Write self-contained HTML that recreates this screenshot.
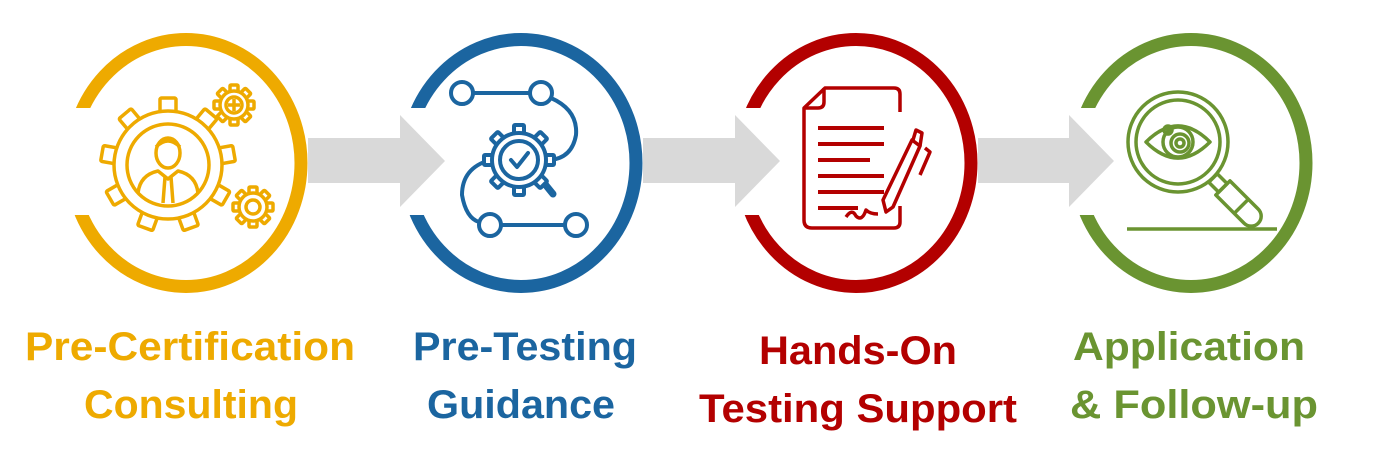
<!DOCTYPE html>
<html><head><meta charset="utf-8"><style>
html,body{margin:0;padding:0;background:#fff;}
svg{display:block;}
text{font-family:"Liberation Sans",sans-serif;font-weight:bold;font-size:40px;}
</style></head><body>
<svg width="1382" height="469" viewBox="0 0 1382 469" xmlns="http://www.w3.org/2000/svg">
<defs>
<rect id="tooth" x="-8" y="-67" width="16" height="20" rx="1.5"/>
<rect id="stooth" x="-4" y="-20" width="8" height="8" rx="1"/>
<rect id="btooth" x="-5" y="-35" width="10" height="10" rx="1"/>
</defs>
<!-- rings -->
<g fill="none" stroke-width="13">
<ellipse cx="186" cy="163" rx="115" ry="123.5" stroke="#eeaa00"/>
<ellipse cx="521" cy="163" rx="115" ry="123.5" stroke="#1b65a0"/>
<ellipse cx="856" cy="163" rx="115" ry="123.5" stroke="#b30000"/>
<ellipse cx="1191" cy="163" rx="115" ry="123.5" stroke="#6a9431"/>
</g>
<g fill="#fff">
<rect x="55" y="108" width="40" height="107"/>
<rect x="390" y="108" width="40" height="107"/>
<rect x="725" y="108" width="40" height="107"/>
<rect x="1060" y="108" width="40" height="107"/>
</g>
<!-- arrows -->
<g fill="#d9d9d9">
<rect x="308" y="138" width="94" height="45"/><polygon points="400,115 445,161 400,207"/>
<rect x="643" y="138" width="94" height="45"/><polygon points="735,115 780,161 735,207"/>
<rect x="978" y="138" width="94" height="45"/><polygon points="1069,115 1114,161 1069,207"/>
</g>
<!-- yellow icon -->
<g stroke="#eeaa00" stroke-width="3.5" fill="#fff" stroke-linejoin="round">
<g transform="translate(168,165)">
<use href="#tooth"/><use href="#tooth" transform="rotate(40)"/><use href="#tooth" transform="rotate(80)"/><use href="#tooth" transform="rotate(120)"/><use href="#tooth" transform="rotate(160)"/><use href="#tooth" transform="rotate(200)"/><use href="#tooth" transform="rotate(240)"/><use href="#tooth" transform="rotate(280)"/><use href="#tooth" transform="rotate(320)"/>
<circle r="54"/>
<circle r="41"/>
<ellipse cx="0" cy="-12" rx="12" ry="15"/>
<path d="M-12,-18 Q0,-30 12,-18" fill="none"/>
<path d="M-30,28 Q-28,10 -10,6 L0,14 L10,6 Q28,10 30,28" fill="none"/>
<path d="M-3,12 L-5,38 M3,12 L5,38" fill="none"/>
</g>
<g transform="translate(234,105)">
<use href="#stooth"/><use href="#stooth" transform="rotate(45)"/><use href="#stooth" transform="rotate(90)"/><use href="#stooth" transform="rotate(135)"/><use href="#stooth" transform="rotate(180)"/><use href="#stooth" transform="rotate(225)"/><use href="#stooth" transform="rotate(270)"/><use href="#stooth" transform="rotate(315)"/>
<circle r="14"/><circle r="8"/><path d="M-6,0H6M0,-6V6"/>
</g>
<g transform="translate(253,207)">
<use href="#stooth"/><use href="#stooth" transform="rotate(45)"/><use href="#stooth" transform="rotate(90)"/><use href="#stooth" transform="rotate(135)"/><use href="#stooth" transform="rotate(180)"/><use href="#stooth" transform="rotate(225)"/><use href="#stooth" transform="rotate(270)"/><use href="#stooth" transform="rotate(315)"/>
<circle r="14"/><circle r="7"/>
</g>
</g>
<!-- blue icon -->
<g stroke="#1b65a0" stroke-width="4" fill="none" stroke-linecap="round">
<circle cx="462" cy="93" r="11"/><circle cx="541" cy="93" r="11"/><line x1="473" y1="93" x2="530" y2="93"/>
<path d="M551,98 Q578,110 576,135 Q572,158 550,160"/>
<circle cx="490" cy="225" r="11"/><circle cx="576" cy="225" r="11"/><line x1="501" y1="225" x2="565" y2="225"/>
<path d="M490,160 Q462,168 462,195 Q466,218 479,222"/>
<path d="M540,178 L553,194" stroke-width="7"/>
<g transform="translate(519,160)" fill="#fff" stroke-linejoin="round">
<use href="#btooth"/><use href="#btooth" transform="rotate(45)"/><use href="#btooth" transform="rotate(90)"/><use href="#btooth" transform="rotate(135)"/><use href="#btooth" transform="rotate(180)"/><use href="#btooth" transform="rotate(225)"/><use href="#btooth" transform="rotate(270)"/><use href="#btooth" transform="rotate(315)"/>
<circle r="27"/><circle r="19"/>
<path d="M-8,0 L-2,7 L9,-7" fill="none"/>
</g>
</g>
<!-- red icon -->
<g stroke="#b30000" stroke-width="3.5" fill="none" stroke-linejoin="round">
<path d="M900,112 V94 Q900,88 894,88 H825 L804,108 V220 Q804,228 812,228 H894 Q900,228 900,222 V206"/>
<path d="M804,108 H818 Q824,108 824,102 V88"/>
<g stroke-width="4"><path d="M818,128H884M818,144H884M818,160H870M818,176H884M818,192H884M818,208H858"/></g>
<path d="M846,217 Q852,208 856,216 Q862,222 866,210 Q870,214 878,214"/>
<path d="M912,140 L920,146 L893,207 L886,212 L883,200 Z"/>
<path d="M913,140 L916,130 L922,133 L920,146"/>
<path d="M925,148 L930,152 L920,175"/>
</g>
<!-- green icon -->
<g stroke="#6a9431" stroke-width="3.5" fill="none" stroke-linejoin="round">
<circle cx="1178" cy="142" r="50"/><circle cx="1178" cy="142" r="42"/>
<path d="M1146,142 Q1178,110 1210,142 Q1178,174 1146,142 Z"/>
<circle cx="1178" cy="142" r="15"/><circle cx="1180" cy="143" r="9"/><circle cx="1180" cy="143" r="4"/>
<circle cx="1168" cy="130" r="4"/>
<g transform="translate(1213,178) rotate(45)">
<rect x="0" y="-6" width="14" height="12"/>
<path d="M14,-10 H54 A10,10 0 0 1 54,10 H14 Z"/>
<line x1="40" y1="-10" x2="40" y2="10"/>
</g>
<line x1="1127" y1="229" x2="1277" y2="229"/>
</g>
<!-- labels -->
<text x="190" y="360" text-anchor="middle" fill="#eeaa00" textLength="330" lengthAdjust="spacingAndGlyphs">Pre-Certification</text>
<text x="191" y="418" text-anchor="middle" fill="#eeaa00" textLength="214" lengthAdjust="spacingAndGlyphs">Consulting</text>
<text x="525" y="360" text-anchor="middle" fill="#1b65a0" textLength="224" lengthAdjust="spacingAndGlyphs">Pre-Testing</text>
<text x="521" y="418" text-anchor="middle" fill="#1b65a0" textLength="188" lengthAdjust="spacingAndGlyphs">Guidance</text>
<text x="858" y="364" text-anchor="middle" fill="#b30000" textLength="198" lengthAdjust="spacingAndGlyphs">Hands-On</text>
<text x="858" y="422" text-anchor="middle" fill="#b30000" textLength="318" lengthAdjust="spacingAndGlyphs">Testing Support</text>
<text x="1189" y="360" text-anchor="middle" fill="#6a9431" textLength="232" lengthAdjust="spacingAndGlyphs">Application</text>
<text x="1194" y="418" text-anchor="middle" fill="#6a9431" textLength="248" lengthAdjust="spacingAndGlyphs">&amp; Follow-up</text>
</svg>
</body></html>
